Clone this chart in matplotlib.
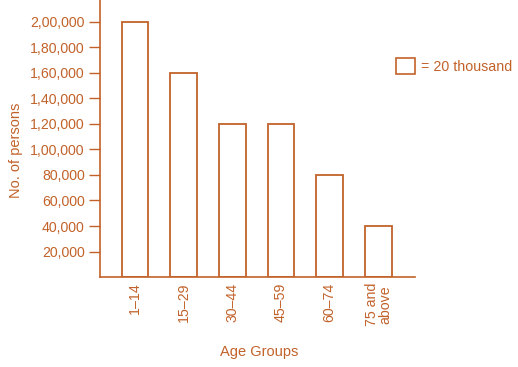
import matplotlib.pyplot as plt
from matplotlib.patches import Patch

# ---------------- Data ----------------
age_groups = ["1\u201314", "15\u201329", "30\u201344", "45\u201359", "60\u201374", "75 and\nabove"]
persons = [200000, 160000, 120000, 120000, 80000, 40000]
y_ticks = [20000, 40000, 60000, 80000, 100000, 120000, 140000, 160000, 180000, 200000]
y_tick_labels = ["20,000", "40,000", "60,000", "80,000", "1,00,000",
                 "1,20,000", "1,40,000", "1,60,000", "1,80,000", "2,00,000"]

col = "#c2622a"
plt.rcParams['font.family'] = ['Liberation Sans', 'DejaVu Sans']

fig = plt.figure(figsize=(5.18, 3.67), dpi=100)
ax = fig.add_axes([0.193, 0.245, 0.608, 0.755])

x = list(range(len(age_groups)))
ax.bar(x, persons, width=0.55, facecolor="white", edgecolor=col, linewidth=1.3)

ax.set_xlim(-0.72, 5.75)
ax.set_ylim(0, 217000)
ax.set_yticks(y_ticks)
ax.set_yticklabels(y_tick_labels)
ax.set_xticks(x)
ax.set_xticklabels(age_groups, rotation=90, va="top", ha="center", linespacing=0.95)

ax.tick_params(axis="y", colors=col, labelsize=10.2, length=8, width=1, pad=3)
ax.tick_params(axis="x", colors=col, labelsize=10.2, length=0, pad=4)

for s in ["top", "right"]:
    ax.spines[s].set_visible(False)
for s in ["left", "bottom"]:
    ax.spines[s].set_color(col)
    ax.spines[s].set_linewidth(1.2)

fig.text(0.03, 0.59, "No. of persons", rotation=90, color=col, fontsize=10.5,
         ha="center", va="center")
fig.text(0.5, 0.04, "Age Groups", color=col, fontsize=10.5, ha="center", va="center")

handle = Patch(facecolor="white", edgecolor=col, linewidth=1.2)
leg = fig.legend([handle], ["= 20 thousand"], loc="center left",
                 bbox_to_anchor=(0.74, 0.82), frameon=False, handlelength=1.3,
                 handleheight=1.3, handletextpad=0.4, fontsize=10.3)
for t in leg.get_texts():
    t.set_color(col)

fig.savefig("out.png", dpi=100, facecolor="white")
